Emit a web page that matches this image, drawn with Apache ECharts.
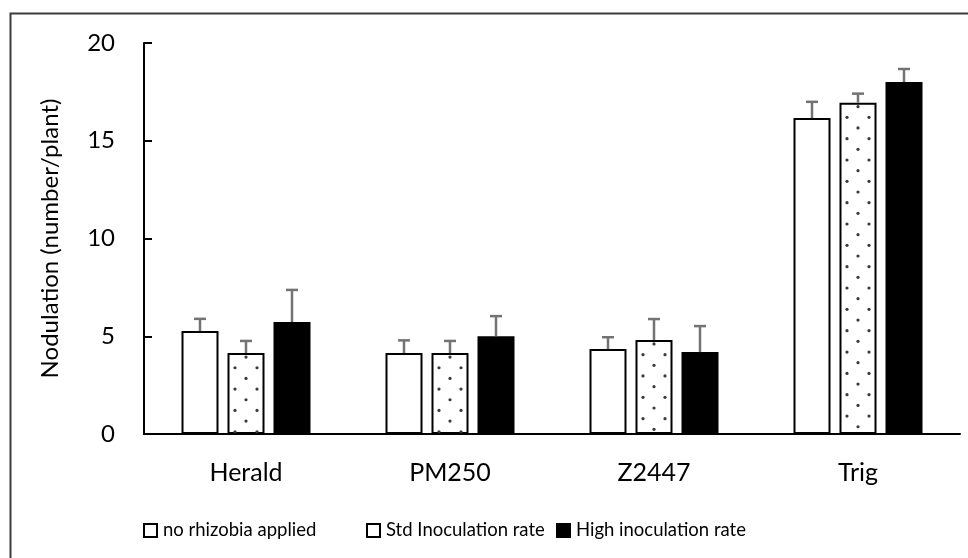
<!DOCTYPE html>
<html><head><meta charset="utf-8">
<script src="https://cdn.jsdelivr.net/npm/echarts@6/dist/echarts.min.js"></script>
<style>html,body{margin:0;padding:0;background:#fff}#c{width:968px;height:558px}</style>
</head><body><div id="c"></div>
<script>
const categories = ['Herald', 'PM250', 'Z2447', 'Trig'];
const seriesNames = ['no rhizobia applied', 'Std Inoculation rate', 'High inoculation rate'];
const noRhizobia = [5.27, 4.14, 4.35, 16.16];
const noRhizobiaErr = [0.62, 0.65, 0.60, 0.83];
const stdRate = [4.14, 4.14, 4.81, 16.95];
const stdRateErr = [0.62, 0.62, 1.07, 0.46];
const highRate = [5.73, 5.00, 4.19, 18.00];
const highRateErr = [1.64, 1.03, 1.33, 0.67];
const yTicks = [0, 5, 10, 15, 20];

const FONT = 'Lato';
const BAR_W = 37, BAR_GAP = 9;
const values = [noRhizobia, stdRate, highRate];
const errs = [noRhizobiaErr, stdRateErr, highRateErr];

const errData = [];
values.forEach((arr, k) => arr.forEach((v, i) => errData.push([i, v, errs[k][i], k])));
const dotData = stdRate.map((v, i) => [i, v]);

const chart = echarts.init(document.getElementById('c'), null, {renderer: 'canvas'});
chart.setOption({
  animation: false,
  backgroundColor: '#fff',
  graphic: [{
    type: 'rect', left: 8, top: 11, z: -10, silent: true,
    shape: {width: 1100, height: 700},
    style: {fill: 'none', stroke: '#3c3c3c', lineWidth: 2}
  }],
  grid: {left: 144, right: 8, top: 43, bottom: 124, containLabel: false},
  legend: [0, 1, 2].map((k, idx) => ({
    data: [{name: seriesNames[k], icon: 'rect'}],
    left: [143, 366, 556][idx], top: 521, padding: 0,
    itemWidth: 13, itemHeight: 13, itemGap: 6,
    textStyle: {fontFamily: FONT, fontSize: 18.5, color: '#000', padding: [0, 0, 0, 1]},
    itemStyle: {borderWidth: 2, borderColor: '#000'}
  })),
  xAxis: {
    type: 'category', data: categories,
    axisLine: {lineStyle: {color: '#000', width: 2}},
    axisTick: {show: false},
    axisLabel: {fontFamily: FONT, fontSize: 25, color: '#000', margin: 26}
  },
  yAxis: {
    type: 'value', min: 0, max: 20, interval: 5,
    name: 'Nodulation (number/plant)', nameLocation: 'middle', nameGap: 82,
    nameTextStyle: {fontFamily: FONT, fontSize: 24, color: '#000'},
    axisLine: {show: true, lineStyle: {color: '#000', width: 2}},
    axisTick: {show: true, inside: true, length: 8, lineStyle: {color: '#000', width: 2}},
    splitLine: {show: false},
    axisLabel: {fontFamily: FONT, fontSize: 24, color: '#000', margin: 29,
      formatter: v => yTicks.includes(v) ? String(v) : ''}
  },
  series: [
    {name: seriesNames[0], type: 'bar', data: noRhizobia, barWidth: BAR_W, barGap: (BAR_GAP / BAR_W * 100) + '%',
      itemStyle: {color: '#fff', borderColor: '#000', borderWidth: 2}},
    {name: seriesNames[1], type: 'bar', data: stdRate, barWidth: BAR_W,
      itemStyle: {color: '#fff', borderColor: '#000', borderWidth: 2}},
    {name: seriesNames[2], type: 'bar', data: highRate, barWidth: BAR_W,
      itemStyle: {color: '#000', borderColor: '#000', borderWidth: 2}},
    {type: 'custom', z: 3, data: dotData, encode: {x: 0, y: 1},
      renderItem: function (params, api) {
        const top = api.coord([api.value(0), api.value(1)]);
        const base = api.coord([api.value(0), 0]);
        const cx = top[0];
        const children = [];
        let k = 0;
        for (let y = top[1] + 4; y < base[1] - 1; y += 10.67, k++) {
          const xs = (k % 2 === 0) ? [cx] : [cx - 11, cx + 11];
          xs.forEach(x => children.push({type: 'circle', shape: {cx: x, cy: y, r: 1.6}, style: {fill: '#3a3a3a'}}));
        }
        return {type: 'group', children: children};
      }},
    {type: 'custom', z: 4, data: errData, encode: {x: 0, y: [1, 2]},
      renderItem: function (params, api) {
        const i = api.value(0), v = api.value(1), e = api.value(2), k = api.value(3);
        const p0 = api.coord([i, v]);
        const p1 = api.coord([i, v + e]);
        const x = p0[0] + (k - 1) * (BAR_W + BAR_GAP);
        const st = {stroke: '#737373', lineWidth: 2.5};
        return {type: 'group', children: [
          {type: 'line', shape: {x1: x, y1: p0[1], x2: x, y2: p1[1]}, style: st},
          {type: 'line', shape: {x1: x - 6, y1: p1[1], x2: x + 6, y2: p1[1]}, style: st}
        ]};
      }}
  ]
});
</script></body></html>
